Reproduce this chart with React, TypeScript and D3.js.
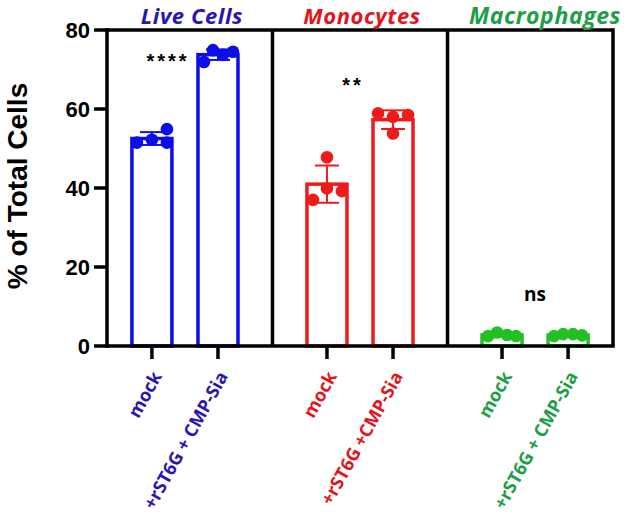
import React from "react";
import * as d3 from "d3";

// panel titles and tick labels
const groups = ["Live Cells", "Monocytes", "Macrophages"];
const conditionLabels = [
  ["mock", "+rST6G + CMP-Sia"],
  ["mock", "+rST6G +CMP-Sia"],
  ["mock", "+rST6G + CMP-Sia"],
];
const yTicks = [0, 20, 40, 60, 80];

// replicate values, % of total cells
const liveMock = [51.5, 52.2, 54.9, 51.5];
const liveTreated = [71.9, 74.9, 73.7, 74.5];
const monoMock = [37.0, 47.8, 39.9, 39.2];
const monoTreated = [58.9, 58.0, 58.5, 53.8];
const macroMock = [2.5, 3.4, 2.8, 2.5];
const macroTreated = [2.5, 3.0, 3.0, 2.7];

// significance labels and the height (in % units) they sit at
const sigLabels = ["****", "**", "ns"];
const sigHeights = [74.2, 68, 13.2];

const series = [
  [liveMock, liveTreated],
  [monoMock, monoTreated],
  [macroMock, macroTreated],
];

// styling
const barColors = ["#0d0de6", "#ee1b1b", "#22c022"];
const textColors = ["#2a16b2", "#e3141c", "#1e9e48"];
// horizontal scatter of the dots (px), per bar
const dotJitter = [
  [[-15, 0, 15, 15], [-14, -5, 5, 15]],
  [[-14, 0, 0, 15], [-15, 0, 15, 0]],
  [[-14, -5, 5, 14], [-14, -5, 5, 14]],
];
const sigShift = [-17, -7, 0];
const titleShift = [7, 2, 10];
const titleSize = [22, 22, 23];

const W = 633;
const H = 520;
const left = 107;
const right = 613;
const top = 30;
const bottom = 346;
const gapSlots = 1.65;

export default function App() {
  const slot = (g: number, c: number) => g * (1 + gapSlots) + c;
  const lastSlot = slot(2, 1);
  const pad = 0.68;
  const x = d3.scaleLinear().domain([-pad, lastSlot + pad]).range([left, right]);
  const y = d3.scaleLinear().domain([0, 80]).range([bottom, top]);
  const barW = 40;
  const capW = 24;
  const sep = [0, 1].map((g) => (x(slot(g, 1)) + x(slot(g + 1, 0))) / 2);

  return (
    <svg width={W} height={H} style={{ display: "block", position: "absolute", left: 0, top: 0, background: "#fff" }}>
      {/* bars, error bars and dots */}
      {series.map((pair, g) =>
        pair.map((vals, c) => {
          const cx = x(slot(g, c));
          const mean = d3.mean(vals)!;
          const sd = d3.deviation(vals)!;
          const col = barColors[g];
          return (
            <g key={`${g}-${c}`}>
              <rect x={cx - barW / 2} y={y(mean)} width={barW} height={y(0) - y(mean)} fill="#fff" stroke={col} strokeWidth={3.5} />
              <line x1={cx} x2={cx} y1={y(mean + sd)} y2={y(mean - sd)} stroke={col} strokeWidth={2} />
              <line x1={cx - capW / 2} x2={cx + capW / 2} y1={y(mean + sd)} y2={y(mean + sd)} stroke={col} strokeWidth={2} />
              <line x1={cx - capW / 2} x2={cx + capW / 2} y1={y(mean - sd)} y2={y(mean - sd)} stroke={col} strokeWidth={2} />
              {vals.map((v, i) => (
                <circle key={i} cx={cx + dotJitter[g][c][i]} cy={y(v)} r={6.3} fill={col} />
              ))}
            </g>
          );
        })
      )}

      {/* frame */}
      <g stroke="#000" strokeWidth={3.5} fill="none">
        <line x1={left} x2={right} y1={top} y2={top} />
        <line x1={left} x2={right + 1.7} y1={bottom} y2={bottom} />
        <line x1={left} x2={left} y1={top - 1.7} y2={bottom + 1.7} />
        <line x1={right} x2={right} y1={top - 1.7} y2={bottom} />
        {sep.map((s, i) => (
          <line key={i} x1={s} x2={s} y1={top} y2={bottom} />
        ))}
      </g>

      {/* y axis */}
      {yTicks.map((t) => (
        <g key={t}>
          <line x1={left - 13} x2={left} y1={y(t)} y2={y(t)} stroke="#000" strokeWidth={3.5} />
          <text x={left - 17} y={y(t)} dy="0.36em" textAnchor="end" fontFamily="'Liberation Sans', Arial, sans-serif" fontWeight="bold" fontSize={22} fill="#000">
            {t}
          </text>
        </g>
      ))}
      <text transform={`translate(27,186) rotate(-90)`} textAnchor="middle" fontFamily="'Liberation Sans', Arial, sans-serif" fontWeight="bold" fontSize={28} fill="#000">
        % of Total Cells
      </text>

      {/* x ticks and rotated labels */}
      {conditionLabels.map((labels, g) =>
        labels.map((lab, c) => {
          const cx = x(slot(g, c));
          return (
            <g key={`${g}-${c}`}>
              <line x1={cx} x2={cx} y1={bottom} y2={bottom + 13} stroke="#000" strokeWidth={3.5} />
              <text transform={`translate(${cx + 5},${bottom + 27}) rotate(-61)`} dy="0.35em" textAnchor="end" fontFamily="'Open Sans', sans-serif" fontWeight="bold" fontSize={18} fill={textColors[g]}>
                {lab}
              </text>
            </g>
          );
        })
      )}

      {/* panel titles */}
      {groups.map((name, g) => {
        const cx = (x(slot(g, 0)) + x(slot(g, 1))) / 2;
        return (
          <text key={name} x={cx + titleShift[g]} y={24} textAnchor="middle" fontFamily="'Open Sans', sans-serif" fontStyle="italic" fontWeight="bold" fontSize={titleSize[g]} letterSpacing={0.6} fill={textColors[g]}>
            {name}
          </text>
        );
      })}

      {/* significance */}
      {sigLabels.map((s, g) => {
        const cx = (x(slot(g, 0)) + x(slot(g, 1))) / 2 + sigShift[g];
        const star = s.includes("*");
        return (
          <text key={g} x={cx} y={y(sigHeights[g])} dy={star ? "0.75em" : "0.35em"} textAnchor="middle" fontFamily={star ? "'Liberation Sans', Arial, sans-serif" : "'Open Sans', sans-serif"} fontWeight="bold" fontSize={star ? 20 : 19} letterSpacing={star ? 3 : 0} fill="#000">
            {s}
          </text>
        );
      })}
    </svg>
  );
}
